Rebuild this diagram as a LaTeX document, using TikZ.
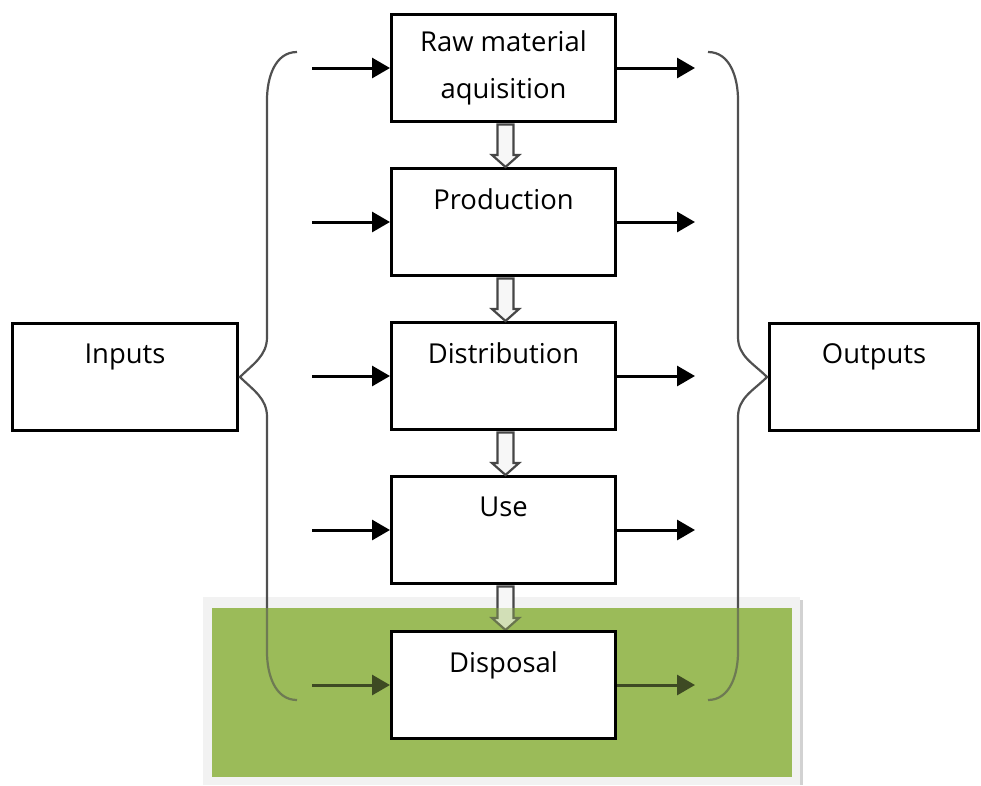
\documentclass[tikz,border=0pt]{standalone}
\usepackage{fontspec}
\setmainfont{Open Sans}
\usetikzlibrary{arrows.meta,calc}
\pgfdeclarelayer{panel}
\pgfdeclarelayer{tint}
\pgfdeclarelayer{front}
\pgfsetlayers{panel,main,tint,front}
\definecolor{olive}{RGB}{155,187,89}
\definecolor{rim}{RGB}{242,242,242}
\definecolor{bracegray}{RGB}{80,80,80}

\begin{document}
\begin{tikzpicture}[x=0.25mm, y=-0.25mm,
    box/.style={draw=black, line width=0.75mm, fill=white, minimum width=56mm,
        minimum height=26.75mm, inner sep=0pt, align=center,
        font=\fontsize{19.5}{33}\selectfont},
    flow/.style={line width=0.75mm, -{Triangle[length=4.5mm, width=5mm]}},
    hollow/.style={draw=gray!55!black, fill=gray!6, line width=0.55mm},
    brace/.style={draw=bracegray, line width=0.55mm}]

    \useasboundingbox (0,0) rectangle (981,785);

    % green panel behind the last stage
    \begin{pgfonlayer}{panel}
        \fill[rim] (203,597) rectangle (800,785);
        \fill[gray!35] (800,600) rectangle (803,785);
        \fill[olive] (212,608) rectangle (792,777);
    \end{pgfonlayer}

    % stages
    \node[box] (raw) at (503.5,68) {Raw material\\aquisition};
    \node[box] (prod) at (503.5,222) {Production\\\mbox{}};
    \node[box] (dist) at (503.5,376) {Distribution\\\mbox{}};
    \node[box] (use) at (503.5,530) {Use\\\mbox{}};
    \begin{pgfonlayer}{front}
        \node[box] (disp) at (503.5,685) {Disposal\\\mbox{}};
    \end{pgfonlayer}

    \node[box, minimum width=56.25mm] (inputs) at (125,376.5) {Inputs\\\mbox{}};
    \node[box, minimum width=52.25mm] (outputs) at (874,376.5) {Outputs\\\mbox{}};

    % hollow arrows from stage to stage
    \foreach \a/\b in {raw/prod, prod/dist, dist/use, use/disp}
        \draw[hollow] ($(\a.south)+(-6,1.5)$) -- ($(\b.north)+(-6,-12)$)
            -- ($(\b.north)+(-11.5,-12)$) -- ($(\b.north)+(2,0)$)
            -- ($(\b.north)+(15.5,-12)$) -- ($(\b.north)+(10,-12)$)
            -- ($(\a.south)+(10,1.5)$) -- cycle;

    % flows in and out of each stage
    \foreach \s in {raw, prod, dist, use, disp} {
        \coordinate (in-\s) at ($(\s.west)+(-78,0)$);
        \coordinate (out-\s) at ($(\s.east)+(78,0)$);
        \draw[flow] (in-\s) -- (\s.west);
        \draw[flow] (\s.east) -- (out-\s);
    }

    % braces
    \draw[brace] (297,52) to[out=180, in=90] (267,100) -- (267,337)
        to[out=-90, in=45] (240,377) to[out=-45, in=90] (267,417)
        -- (267,652) to[out=-90, in=180] (297,700);
    \draw[brace] (708,52) to[out=0, in=90] (738,100) -- (738,337)
        to[out=-90, in=135] (767,377) to[out=-135, in=90] (738,417)
        -- (738,652) to[out=-90, in=0] (708,700);

    % darken what runs over the panel
    \begin{pgfonlayer}{tint}
        \fill[olive, opacity=0.4] (212,608) rectangle (792,777);
    \end{pgfonlayer}

\end{tikzpicture}
\end{document}
